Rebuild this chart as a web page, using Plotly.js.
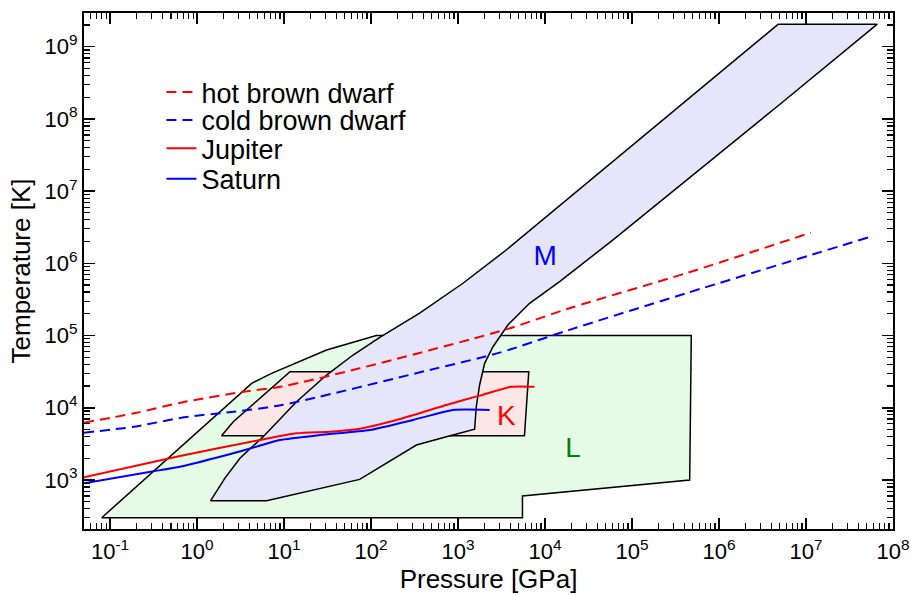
<!DOCTYPE html>
<html>
<head>
<meta charset="utf-8">
<script src="https://cdn.plot.ly/plotly-3.0.1.min.js"></script>
<style>html,body{margin:0;padding:0;background:#fff;}</style>
</head>
<body>
<div id="chart" style="width:911px;height:595px;"></div>
<script>
// Region L (green)
const regionL_P = [0.08, 4.24, 7.18, 30.8, 115, 4.8e5, 4.6e5, 5.5e3, 5.5e3, 0.08];
const regionL_T = [300, 2.18e4, 3.0e4, 6.3e4, 1.0e5, 1.0e5, 1.0e3, 600, 300, 300];
// Region K (pink)
const regionK_P = [1.91, 2.61, 11.7, 6.5e3, 5.8e3, 1.91];
const regionK_T = [4.1e3, 6.4e3, 3.16e4, 3.16e4, 4.1e3, 4.1e3];
// Region M (lavender)
const regionM_P = [4.8e6, 6.6e7, 4.9e6, 6.0e4, 1.47e4, 6.64e3, 3.74e3, 2.52e3, 2.02e3, 1.77e3, 1.62e3, 1.55e3, 735, 332, 74, 6.3, 1.43,
                   2.09, 3.11, 5.75, 13.9, 30.8, 62.1, 126, 362, 1138, 3580, 4.8e6];
const regionM_T = [2.05e9, 2.05e9, 1.56e8, 2.1e6, 5.58e5, 2.8e5, 1.4e5, 7.0e4, 4.13e4, 2.07e4, 1.04e4, 5.04e3, 3.98e3, 3.05e3, 1.02e3, 517, 517,
                   1.06e3, 2.0e3, 3.98e3, 1.21e4, 2.84e4, 5.38e4, 9.46e4, 2.04e5, 5.3e5, 1.53e6, 2.05e9];
// Hot brown dwarf
const hotBD_P = [0.05, 0.189, 0.708, 3.45, 9.44, 74.1, 3580, 1.91e4, 4.18e5, 1.14e7];
const hotBD_T = [6220, 8400, 12020, 16700, 19720, 35240, 1.22e5, 2.39e5, 7.3e5, 2.66e6];
// Cold brown dwarf
const coldBD_P = [0.05, 0.189, 0.708, 2.65, 9.44, 472, 3006, 1.91e4, 4.18e5, 5.56e7];
const coldBD_T = [4520, 5470, 7380, 8830, 10940, 33400, 58000, 1.2e5, 3.85e5, 2.34e6];
// Jupiter
const jup_P = [0.05, 0.637, 5.27, 13.9, 33.6, 67.9, 196, 735, 1770, 4090, 7570];
const jup_T = [1089, 2148, 3581, 4436, 4667, 5035, 6776, 10940, 14720, 19590, 19590];
// Saturn
const sat_P = [0.05, 0.293, 0.637, 2.19, 4.83, 8.95, 25.8, 96.6, 303, 875, 2307];
const sat_T = [900, 1303, 1528, 2218, 2897, 3581, 4198, 4920, 6776, 9333, 9333];
// Region labels
const labelText = ["M", "K", "L"];
const labelP = [1.0e4, 3.6e3, 2.1e4];
const labelT = [1.19e6, 7.2e3, 2.6e3];
const labelColor = ["#0000ff", "#ff0000", "#008000"];
// Axis tick labels
const xTickVals = [0.1, 1, 10, 100, 1e3, 1e4, 1e5, 1e6, 1e7, 1e8];
const xTickText = ["10<sup>-1</sup>", "10<sup>0</sup>", "10<sup>1</sup>", "10<sup>2</sup>", "10<sup>3</sup>",
                   "10<sup>4</sup>", "10<sup>5</sup>", "10<sup>6</sup>", "10<sup>7</sup>", "10<sup>8</sup>"];
const yTickVals = [1e3, 1e4, 1e5, 1e6, 1e7, 1e8, 1e9];
const yTickText = ["10<sup>3</sup>", "10<sup>4</sup>", "10<sup>5</sup>", "10<sup>6</sup>", "10<sup>7</sup>", "10<sup>8</sup>", "10<sup>9</sup>"];

function minorVals(lo, hi) {
  const v = [];
  for (let e = lo; e <= hi; e++) for (let m = 2; m <= 9; m++) v.push(m * Math.pow(10, e));
  return v;
}

const FONT = "Liberation Sans, Arial, Helvetica, sans-serif";
const poly = (x, y, fill) => ({x, y, type: "scatter", mode: "lines", fill: "toself", fillcolor: fill,
  line: {color: "#000", width: 1.5}, showlegend: false, hoverinfo: "skip"});

const traces = [
  poly(regionL_P, regionL_T, "#e5fbe5"),
  poly(regionK_P, regionK_T, "#fde6e6"),
  poly(regionM_P, regionM_T, "#e6e6fa"),
  {x: hotBD_P, y: hotBD_T, type: "scatter", mode: "lines", name: "hot brown dwarf", legend: "legend",
   line: {color: "#ff0000", width: 2, dash: "10px,6px", shape: "spline", smoothing: 0.8}},
  {x: coldBD_P, y: coldBD_T, type: "scatter", mode: "lines", name: "cold brown dwarf", legend: "legend2",
   line: {color: "#0000ff", width: 2, dash: "10px,6px", shape: "spline", smoothing: 0.8}},
  {x: jup_P, y: jup_T, type: "scatter", mode: "lines", name: "Jupiter", legend: "legend3",
   line: {color: "#ff0000", width: 2, shape: "spline", smoothing: 0.5}},
  {x: sat_P, y: sat_T, type: "scatter", mode: "lines", name: "Saturn", legend: "legend4",
   line: {color: "#0000ff", width: 2, shape: "spline", smoothing: 0.5}},
  {x: labelP, y: labelT, type: "scatter", mode: "text", text: labelText,
   textfont: {family: FONT, size: 28, color: labelColor}, showlegend: false, hoverinfo: "skip"}
];

const axisCommon = {
  type: "log", showgrid: false, zeroline: false, showline: true, linecolor: "#000", linewidth: 2,
  mirror: "allticks", ticks: "inside", ticklen: 11, tickwidth: 1.5, tickcolor: "#000",
  tickmode: "array", tickfont: {family: FONT, size: 22, color: "#000"}
};

const legendCommon = {xanchor: "left", yanchor: "middle", bgcolor: "rgba(0,0,0,0)",
  font: {family: FONT, size: 27, color: "#000"}, borderwidth: 0};
const LX = 0.0957;

const layout = {
  width: 911, height: 595,
  margin: {l: 84, r: 18, t: 13, b: 66},
  paper_bgcolor: "#fff", plot_bgcolor: "#fff",
  font: {family: FONT, color: "#000"},
  xaxis: Object.assign({}, axisCommon, {range: [-1.3, 8], tickvals: xTickVals, ticktext: xTickText,
    ticklabelstandoff: 2,
    minor: {tickmode: "array", tickvals: minorVals(-2, 7), ticks: "inside", ticklen: 6, tickwidth: 1.2, tickcolor: "#000", showgrid: false},
    title: {text: "Pressure [GPa]", font: {family: FONT, size: 26}, standoff: 2}}),
  yaxis: Object.assign({}, axisCommon, {range: [2.3213, 9.4668], tickvals: yTickVals, ticktext: yTickText,
    minor: {tickmode: "array", tickvals: minorVals(2, 9), ticks: "inside", ticklen: 6, tickwidth: 1.2, tickcolor: "#000", showgrid: false},
    title: {text: "Temperature [K]", font: {family: FONT, size: 26}, standoff: 6}}),
  legend: Object.assign({}, legendCommon, {x: LX, y: 0.846}),
  legend2: Object.assign({}, legendCommon, {x: LX, y: 0.792}),
  legend3: Object.assign({}, legendCommon, {x: LX, y: 0.737}),
  legend4: Object.assign({}, legendCommon, {x: LX, y: 0.678}),
  showlegend: true
};

Plotly.newPlot("chart", traces, layout, {displayModeBar: false, staticPlot: true});
</script>
</body>
</html>
